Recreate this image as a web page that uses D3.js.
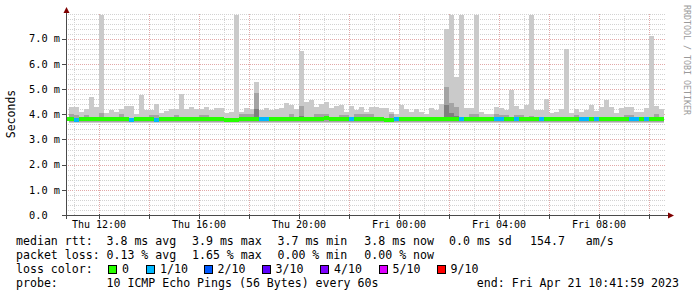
<!DOCTYPE html>
<html>
<head>
<meta charset="utf-8">
<script src="https://cdn.jsdelivr.net/npm/d3@7"></script>
<style>
body { margin: 0; background: #fff; }
svg { display: block; }
text { font-family: "DejaVu Sans Mono", monospace; white-space: pre; }
</style>
</head>
<body>
<div id="chart"></div>
<script>
// time range of the graph, 12 minute steps
var endTime = new Date(2023, 3, 21, 10, 41, 59);
var startTime = new Date(2023, 3, 20, 10, 41, 59);
var firstBin = new Date(2023, 3, 20, 10, 36, 0);
var binMinutes = 12;

// top of the smoke (highest ping), ms
var pingMax = [
  3.90, 4.30, 4.30, 4.10, 4.20, 4.69, 4.30, 7.94, 4.05, 4.17,
  4.10, 4.20, 4.33, 4.33, 4.00, 4.76, 4.17, 4.17, 4.40, 4.03,
  4.13, 4.20, 4.20, 4.80, 4.20, 4.27, 4.20, 4.20, 4.27, 4.15,
  4.24, 4.24, 4.03, 4.10, 7.94, 4.07, 4.25, 4.22, 5.28, 4.15,
  4.25, 4.15, 4.20, 4.25, 4.44, 4.37, 4.20, 6.52, 4.47, 4.56,
  4.30, 4.39, 4.48, 4.25, 4.33, 4.37, 4.08, 4.33, 4.15, 4.28,
  4.10, 4.27, 4.27, 4.24, 4.24, 4.07, 4.00, 4.37, 4.20, 4.10,
  4.20, 4.10, 4.00, 4.25, 4.17, 4.40, 7.38, 7.94, 5.46, 7.94,
  4.24, 4.24, 7.94, 4.07, 4.00, 4.00, 4.27, 4.24, 4.15, 4.96,
  4.33, 4.20, 4.37, 7.94, 4.15, 4.15, 4.60, 4.03, 4.08, 4.20,
  6.59, 4.03, 4.20, 4.08, 4.17, 4.37, 4.13, 4.27, 4.56, 4.27,
  4.03, 4.25, 4.27, 4.27, 4.10, 4.10, 4.25, 7.10, 4.33, 4.20
];
// second highest ping
var ping9 = [
  3.86, 4.01, 3.98, 3.86, 3.97, 3.86, 3.86, 4.03, 3.86, 3.86,
  3.86, 4.01, 3.86, 3.86, 3.86, 3.86, 3.86, 3.97, 3.98, 3.86,
  3.86, 3.86, 3.97, 3.86, 3.86, 3.86, 3.86, 3.97, 3.98, 3.86,
  3.86, 3.86, 3.86, 3.86, 3.86, 4.01, 4.00, 4.01, 4.83, 3.86,
  3.86, 3.86, 3.86, 3.86, 3.86, 4.01, 3.86, 4.33, 3.86, 3.86,
  4.02, 4.00, 4.01, 3.86, 3.86, 3.99, 3.99, 3.86, 4.01, 4.00,
  4.01, 4.00, 3.86, 3.86, 3.86, 4.01, 3.86, 3.86, 3.86, 3.86,
  3.86, 3.86, 3.86, 3.86, 3.86, 3.86, 5.09, 4.43, 4.30, 3.86,
  3.86, 4.01, 4.01, 3.86, 3.86, 3.86, 4.01, 3.99, 3.99, 3.86,
  3.97, 3.97, 3.86, 3.95, 3.86, 3.86, 3.86, 3.86, 3.86, 3.86,
  3.86, 3.86, 3.97, 3.86, 3.86, 3.86, 3.86, 3.86, 3.86, 3.86,
  3.86, 3.86, 3.98, 3.98, 3.86, 3.86, 3.86, 3.86, 4.01, 3.86
];
// third highest ping
var ping8 = [
  3.84, 3.84, 3.84, 3.84, 3.84, 3.84, 3.84, 3.84, 3.84, 3.84,
  3.84, 3.84, 3.84, 3.84, 3.84, 3.84, 3.84, 3.84, 3.84, 3.84,
  3.84, 3.84, 3.84, 3.84, 3.84, 3.84, 3.84, 3.84, 3.84, 3.84,
  3.84, 3.84, 3.84, 3.84, 3.84, 3.84, 3.84, 3.84, 4.22, 3.84,
  3.84, 3.84, 3.84, 3.84, 3.84, 3.84, 3.84, 3.95, 3.84, 3.84,
  3.84, 3.84, 3.84, 3.84, 3.84, 3.84, 3.84, 3.84, 3.84, 3.84,
  3.84, 3.84, 3.84, 3.84, 3.84, 3.84, 3.84, 3.84, 3.84, 3.84,
  3.84, 3.84, 3.84, 3.84, 3.84, 3.84, 4.35, 4.05, 3.95, 3.84,
  3.84, 3.84, 3.84, 3.84, 3.84, 3.84, 3.84, 3.84, 3.84, 3.84,
  3.84, 3.84, 3.84, 3.84, 3.84, 3.84, 3.84, 3.84, 3.84, 3.84,
  3.84, 3.84, 3.84, 3.84, 3.84, 3.84, 3.84, 3.84, 3.84, 3.84,
  3.84, 3.84, 3.84, 3.84, 3.84, 3.84, 3.84, 3.84, 3.84, 3.84
];
// median rtt
var median = [
  3.80, 3.80, 3.79, 3.80, 3.80, 3.80, 3.80, 3.80, 3.80, 3.80,
  3.80, 3.80, 3.80, 3.79, 3.80, 3.80, 3.80, 3.80, 3.79, 3.80,
  3.80, 3.80, 3.80, 3.80, 3.80, 3.80, 3.80, 3.80, 3.80, 3.80,
  3.80, 3.80, 3.78, 3.78, 3.78, 3.80, 3.80, 3.82, 3.82, 3.80,
  3.80, 3.80, 3.80, 3.80, 3.80, 3.80, 3.80, 3.80, 3.80, 3.80,
  3.80, 3.83, 3.84, 3.80, 3.80, 3.80, 3.80, 3.80, 3.80, 3.80,
  3.80, 3.80, 3.80, 3.80, 3.78, 3.78, 3.80, 3.80, 3.80, 3.80,
  3.80, 3.80, 3.80, 3.80, 3.80, 3.80, 3.80, 3.80, 3.80, 3.80,
  3.80, 3.80, 3.80, 3.80, 3.80, 3.80, 3.80, 3.80, 3.80, 3.80,
  3.80, 3.80, 3.80, 3.80, 3.80, 3.80, 3.80, 3.80, 3.80, 3.80,
  3.80, 3.80, 3.80, 3.80, 3.80, 3.80, 3.80, 3.80, 3.80, 3.80,
  3.80, 3.80, 3.80, 3.80, 3.80, 3.80, 3.80, 3.80, 3.81, 3.81
];
// second lowest ping
var ping2 = [
  3.72, 3.70, 3.70, 3.70, 3.70, 3.70, 3.70, 3.70, 3.70, 3.70,
  3.70, 3.70, 3.70, 3.70, 3.70, 3.70, 3.70, 3.70, 3.70, 3.70,
  3.70, 3.70, 3.70, 3.70, 3.70, 3.70, 3.70, 3.70, 3.70, 3.70,
  3.70, 3.70, 3.70, 3.70, 3.70, 3.70, 3.70, 3.70, 3.70, 3.70,
  3.70, 3.70, 3.70, 3.70, 3.70, 3.70, 3.70, 3.70, 3.70, 3.70,
  3.70, 3.70, 3.70, 3.70, 3.70, 3.70, 3.70, 3.70, 3.70, 3.70,
  3.70, 3.70, 3.70, 3.70, 3.70, 3.70, 3.70, 3.70, 3.70, 3.70,
  3.70, 3.70, 3.70, 3.70, 3.70, 3.70, 3.70, 3.70, 3.70, 3.70,
  3.70, 3.70, 3.70, 3.70, 3.70, 3.70, 3.70, 3.70, 3.70, 3.70,
  3.70, 3.70, 3.70, 3.70, 3.70, 3.70, 3.70, 3.70, 3.70, 3.70,
  3.70, 3.70, 3.70, 3.70, 3.70, 3.70, 3.70, 3.70, 3.70, 3.70,
  3.70, 3.70, 3.70, 3.70, 3.70, 3.70, 3.70, 3.70, 3.70, 3.70
];
// lowest ping
var pingMin = [
  3.72, 3.67, 3.67, 3.67, 3.67, 3.67, 3.67, 3.67, 3.66, 3.66,
  3.66, 3.67, 3.66, 3.66, 3.67, 3.67, 3.66, 3.66, 3.67, 3.67,
  3.67, 3.67, 3.67, 3.67, 3.67, 3.67, 3.67, 3.67, 3.67, 3.67,
  3.67, 3.67, 3.67, 3.67, 3.67, 3.67, 3.67, 3.67, 3.67, 3.66,
  3.67, 3.67, 3.67, 3.67, 3.67, 3.67, 3.67, 3.67, 3.67, 3.67,
  3.67, 3.66, 3.67, 3.67, 3.67, 3.67, 3.67, 3.67, 3.67, 3.67,
  3.67, 3.67, 3.67, 3.67, 3.67, 3.67, 3.67, 3.67, 3.67, 3.67,
  3.67, 3.67, 3.67, 3.67, 3.67, 3.67, 3.67, 3.67, 3.67, 3.67,
  3.67, 3.67, 3.67, 3.67, 3.67, 3.67, 3.67, 3.67, 3.67, 3.67,
  3.67, 3.67, 3.67, 3.67, 3.67, 3.67, 3.67, 3.67, 3.67, 3.67,
  3.67, 3.67, 3.67, 3.67, 3.67, 3.67, 3.67, 3.67, 3.67, 3.67,
  3.67, 3.67, 3.67, 3.67, 3.67, 3.67, 3.67, 3.67, 3.67, 3.67
];
// loss level per step (index into lossColors)
var loss = [
  0, 0, 1, 0, 0, 0, 0, 0, 0, 0,
  0, 0, 0, 1, 0, 0, 0, 0, 1, 0,
  0, 0, 0, 0, 0, 0, 0, 0, 0, 0,
  0, 0, 0, 0, 0, 0, 0, 0, 0, 1,
  1, 0, 0, 0, 0, 0, 0, 0, 0, 0,
  0, 0, 0, 0, 0, 0, 0, 1, 0, 0,
  0, 0, 0, 0, 0, 0, 1, 0, 0, 0,
  0, 0, 0, 0, 0, 0, 0, 0, 0, 1,
  0, 0, 0, 0, 0, 0, 1, 1, 0, 0,
  1, 0, 0, 0, 0, 1, 0, 0, 0, 0,
  0, 0, 0, 1, 1, 0, 1, 0, 0, 0,
  0, 0, 0, 1, 1, 0, 1, 0, 0, 0
];

var lossLabels = ["0", "1/10", "2/10", "3/10", "4/10", "5/10", "9/10"];
var lossColors = ["#26ff00", "#00b8ff", "#0059ff", "#5e00ff", "#7e00ff", "#dd00ff", "#ff0000"];
var smokeColors = ["#cacaca", "#a4a4a4", "#7e7e7e"];

var yTicks = [0, 1, 2, 3, 4, 5, 6, 7];
var yTickLabels = ["0.0", "1.0 m", "2.0 m", "3.0 m", "4.0 m", "5.0 m", "6.0 m", "7.0 m"];
var xTickTimes = [new Date(2023, 3, 20, 12), new Date(2023, 3, 20, 16), new Date(2023, 3, 20, 20),
                  new Date(2023, 3, 21, 0), new Date(2023, 3, 21, 4), new Date(2023, 3, 21, 8)];
var xTickLabels = ["Thu 12:00", "Thu 16:00", "Thu 20:00", "Fri 00:00", "Fri 04:00", "Fri 08:00"];

var rttStats = ["3.8 ms avg", "3.9 ms max", "3.7 ms min", "3.8 ms now", "0.0 ms sd", "154.7   am/s"];
var lossStats = ["0.13 % avg", "1.65 % max", "0.00 % min", "0.00 % now"];
var probeText = "10 ICMP Echo Pings (56 Bytes) every 60s";
var endText = "end: Fri Apr 21 10:41:59 2023";

var W = 697, H = 297;
var plot = {left: 66, right: 666, top: 13.5, bottom: 215};

var svg = d3.select("#chart").append("svg").attr("width", W).attr("height", H);

var x = d3.scaleTime().domain([startTime, endTime]).range([plot.left, plot.right]);
var y = d3.scaleLinear().domain([0, 8]).range([plot.bottom, plot.top]);

function px(v) { return Math.round(v) + 0.5; }

// grid, drawn under the data
var grid = svg.append("g").attr("shape-rendering", "crispEdges");
y.ticks(40).forEach(function (v) {
  if (v === 0) return;
  var major = Math.abs(v - Math.round(v)) < 1e-6 && v < 8;
  grid.append("line")
    .attr("x1", plot.left).attr("x2", plot.right)
    .attr("y1", px(y(v))).attr("y2", px(y(v)))
    .attr("stroke", major ? "#e2a8a8" : "#d2d2d2")
    .attr("stroke-dasharray", "1,1");
});
d3.timeHour.every(1).range(startTime, endTime).forEach(function (t) {
  var major = t.getHours() % 2 === 0;
  grid.append("line")
    .attr("x1", px(x(t))).attr("x2", px(x(t)))
    .attr("y1", plot.top).attr("y2", plot.bottom)
    .attr("stroke", major ? "#e2a8a8" : "#d2d2d2")
    .attr("stroke-dasharray", "1,1");
});

// one record per 12 minute step
var steps = pingMax.map(function (d, i) {
  return {
    t0: d3.timeMinute.offset(firstBin, i * binMinutes),
    t1: d3.timeMinute.offset(firstBin, (i + 1) * binMinutes),
    layers: [[pingMin[i], pingMax[i]], [ping2[i], ping9[i]], [median[i], ping8[i]]],
    median: median[i],
    loss: loss[i]
  };
});

function sx0(d) { return Math.max(plot.left, Math.round(x(d.t0))); }
function sw(d) { return Math.round(x(d.t1)) - sx0(d); }

// smoke
var smoke = svg.append("g").attr("shape-rendering", "crispEdges");
smokeColors.forEach(function (c, k) {
  smoke.selectAll(".s" + k).data(steps).enter().append("rect")
    .attr("x", sx0)
    .attr("width", sw)
    .attr("y", function (d) { return Math.round(y(d.layers[k][1])); })
    .attr("height", function (d) {
      return Math.max(0, Math.round(y(d.layers[k][0])) - Math.round(y(d.layers[k][1])));
    })
    .attr("fill", c);
});

// median line coloured by loss
svg.append("g").attr("shape-rendering", "crispEdges")
  .selectAll("rect").data(steps).enter().append("rect")
  .attr("x", sx0)
  .attr("width", sw)
  .attr("y", function (d) { return Math.round(y(d.median)) - 2; })
  .attr("height", 4)
  .attr("fill", function (d) { return lossColors[d.loss]; });

// axes
var axisColor = "#4a4a4a";
var xAxis = d3.axisBottom(x).tickValues(xTickTimes)
  .tickFormat(function (d, i) { return xTickLabels[i]; })
  .tickSize(0).tickPadding(5.4);
var xg = svg.append("g").attr("transform", "translate(0," + plot.bottom + ")").call(xAxis);
xg.select(".domain").remove();
xg.selectAll("text").attr("font-family", "DejaVu Sans Mono").attr("font-size", "10px").attr("fill", "#000");

var yAxis = d3.axisLeft(y).tickValues(yTicks)
  .tickFormat(function (d, i) { return yTickLabels[i]; })
  .tickSize(0);
var yg = svg.append("g").attr("transform", "translate(" + plot.left + ",0)").call(yAxis);
yg.select(".domain").remove();
yg.selectAll("text").attr("font-family", "DejaVu Sans Mono").attr("font-size", "10.3px")
  .attr("fill", "#000").attr("text-anchor", "start").attr("x", 29 - plot.left);

var ax = svg.append("g").attr("shape-rendering", "crispEdges").attr("stroke", axisColor);
var y0 = px(y(0));
ax.append("line").attr("x1", 62).attr("x2", 669).attr("y1", y0).attr("y2", y0);
ax.append("line").attr("x1", 66.5).attr("x2", 66.5).attr("y1", y0 + 3).attr("y2", 11);
yTicks.forEach(function (v) {
  ax.append("line").attr("x1", 62).attr("x2", 66).attr("y1", px(y(v))).attr("y2", px(y(v)));
});
d3.timeHour.every(2).range(startTime, endTime).forEach(function (t) {
  ax.append("line").attr("x1", px(x(t))).attr("x2", px(x(t))).attr("y1", y0 - 2).attr("y2", y0 + 3);
});
// arrows
svg.append("path").attr("d", "M66.5,7L63.5,13L69.5,13Z").attr("fill", "#7f0000");
svg.append("path").attr("d", "M674,215.5L668,212.5L668,218.5Z").attr("fill", "#7f0000");

// vertical labels
svg.append("text").attr("transform", "translate(15,114) rotate(-90)")
  .attr("text-anchor", "middle").attr("font-size", "11.5px").attr("fill", "#000").text("Seconds");
svg.append("text").attr("transform", "translate(683.5,5) rotate(90)")
  .attr("font-size", "8.3px").attr("fill", "#9a9a9a").text("RRDTOOL / TOBI OETIKER");

// legend block
var fs = "11.58px";
var colX = [106.5, 192, 277.5, 364.3, 449, 530];
var rows = [245, 259, 273, 287];
var leg = svg.append("g").attr("font-size", fs).attr("fill", "#000");
leg.append("text").attr("x", 16).attr("y", rows[0]).text("median rtt:");
rttStats.forEach(function (s, i) {
  leg.append("text").attr("x", colX[i]).attr("y", rows[0]).text(s);
});
leg.append("text").attr("x", 16).attr("y", rows[1]).text("packet loss:");
lossStats.forEach(function (s, i) {
  leg.append("text").attr("x", colX[i]).attr("y", rows[1]).text(s);
});
leg.append("text").attr("x", 16).attr("y", rows[2]).text("loss color:");
var boxX = [108, 146, 203.5, 261.5, 320, 378.5, 436.5];
lossLabels.forEach(function (s, i) {
  leg.append("rect").attr("x", boxX[i] + 0.5).attr("y", rows[2] - 7.5).attr("width", 8).attr("height", 8)
    .attr("fill", lossColors[i]).attr("stroke", "#000").attr("shape-rendering", "crispEdges");
  leg.append("text").attr("x", boxX[i] + 14).attr("y", rows[2]).text(s);
});
leg.append("text").attr("x", 16).attr("y", rows[3]).text("probe:");
leg.append("text").attr("x", colX[0]).attr("y", rows[3]).text(probeText);
leg.append("text").attr("x", 679).attr("y", rows[3]).attr("text-anchor", "end").text(endText);
</script>
</body>
</html>
